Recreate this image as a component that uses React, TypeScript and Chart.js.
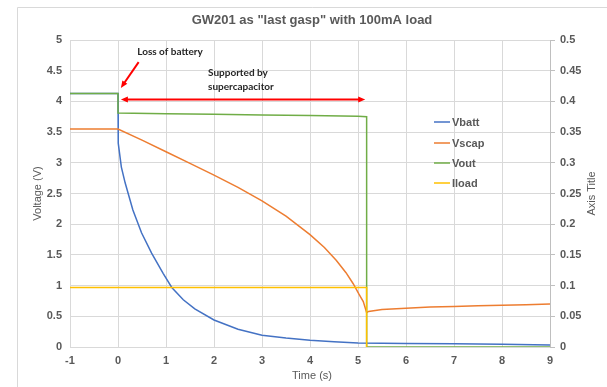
import React, { useEffect, useRef } from "react";
import { Chart, registerables } from "chart.js";

Chart.register(...registerables);

// ---------- data ----------
const chartTitle = 'GW201 as "last gasp" with 100mA load';
const xTitle = "Time (s)";
const yTitle = "Voltage (V)";
const y1Title = "Axis Title";
const seriesNames = ["Vbatt", "Vscap", "Vout", "Iload"];
const seriesColors = ["#4472C4", "#ED7D31", "#70AD47", "#FFC000"];

const vbattTime = [-1, 0, 0, 0.01, 0.07, 0.15, 0.31, 0.49, 0.7, 0.94, 1.12, 1.36, 1.6, 2.0, 2.5, 3.0, 3.5, 4.0, 4.5, 5.0, 5.5, 6.0, 7.0, 8.0, 9.0];
const vbattValues = [4.13, 4.13, 3.8, 3.32, 2.93, 2.67, 2.23, 1.86, 1.53, 1.2, 0.97, 0.77, 0.62, 0.44, 0.29, 0.19, 0.145, 0.11, 0.085, 0.066, 0.06, 0.058, 0.052, 0.043, 0.032];

const vscapTime = [-1, 0, 0.5, 1.0, 1.5, 2.0, 2.5, 3.0, 3.5, 4.0, 4.3, 4.55, 4.75, 4.9, 5.02, 5.11, 5.18, 5.22, 5.5, 6.0, 6.5, 7.0, 7.5, 8.0, 8.5, 9.0];
const vscapValues = [3.55, 3.55, 3.37, 3.18, 2.99, 2.8, 2.6, 2.38, 2.13, 1.83, 1.62, 1.41, 1.21, 1.03, 0.86, 0.74, 0.56, 0.58, 0.61, 0.63, 0.65, 0.66, 0.67, 0.68, 0.69, 0.7];

const voutTime = [-1, 0, 0, 1, 2, 3, 4, 5, 5.18, 5.18, 6, 7, 8, 9];
const voutValues = [4.13, 4.13, 3.81, 3.8, 3.79, 3.78, 3.77, 3.76, 3.75, 0, 0, 0, 0, 0];

const iloadTime = [-1, 5.18, 5.18];
const iloadValues = [0.097, 0.097, 0];

const xTicks = { min: -1, max: 9, step: 1 };
const yTicks = { min: 0, max: 5, step: 0.5 };
const y1Ticks = { min: 0, max: 0.5, step: 0.05 };

// annotations (data coordinates on x / y axes)
const lossLabel = "Loss of battery";
const lossLabelPos = { x: 0.4, y: 4.8 };
const lossArrow = { x0: 0.43, y0: 4.64, x1: 0.06, y1: 4.22 };
const supportLabel = ["Supported by", "supercapacitor"];
const supportLabelPos = { x: 1.875, y: 4.46, y2: 4.23 };
const supportArrow = { x0: 0.06, x1: 5.15, y: 4.03 };

const toPoints = (xs: number[], ys: number[]) => xs.map((x, i) => ({ x, y: ys[i] }));
const fmt = (v: number | string) => String(+Number(v).toFixed(2));

const GRID = "#d9d9d9";
const TEXT = "#595959";

function arrowHead(ctx: CanvasRenderingContext2D, fx: number, fy: number, tx: number, ty: number, len: number, w: number) {
  const a = Math.atan2(ty - fy, tx - fx);
  ctx.beginPath();
  ctx.moveTo(tx, ty);
  ctx.lineTo(tx - len * Math.cos(a) + (w / 2) * Math.sin(a), ty - len * Math.sin(a) - (w / 2) * Math.cos(a));
  ctx.lineTo(tx - len * Math.cos(a) - (w / 2) * Math.sin(a), ty - len * Math.sin(a) + (w / 2) * Math.cos(a));
  ctx.closePath();
  ctx.fill();
}

const decorPlugin = {
  id: "decor",
  beforeDraw(chart: any) {
    const ctx = chart.ctx as CanvasRenderingContext2D;
    ctx.save();
    ctx.fillStyle = "#ffffff";
    ctx.fillRect(0, 0, chart.width, chart.height);
    ctx.strokeStyle = GRID;
    ctx.lineWidth = 1;
    ctx.beginPath();
    ctx.moveTo(17.5, chart.height);
    ctx.lineTo(17.5, 7.5);
    ctx.lineTo(chart.width, 7.5);
    ctx.stroke();
    ctx.restore();
  },
  afterDraw(chart: any) {
    const ctx = chart.ctx as CanvasRenderingContext2D;
    const xs = chart.scales.x;
    const ys = chart.scales.y;
    const area = chart.chartArea;
    ctx.save();
    // title
    ctx.fillStyle = TEXT;
    ctx.font = "bold 13px 'Liberation Sans', Arial, sans-serif";
    ctx.textAlign = "center";
    ctx.textBaseline = "middle";
    ctx.fillText(chartTitle, 312, 20);
    // axis titles
    ctx.font = "11px 'Liberation Sans', Arial, sans-serif";
    ctx.fillText(xTitle, (area.left + area.right) / 2 + 2, 376);
    ctx.save();
    ctx.translate(38, (area.top + area.bottom) / 2);
    ctx.rotate(-Math.PI / 2);
    ctx.fillText(yTitle, 0, 0);
    ctx.restore();
    ctx.save();
    ctx.translate(592, (area.top + area.bottom) / 2);
    ctx.rotate(-Math.PI / 2);
    ctx.fillText(y1Title, 0, 0);
    ctx.restore();
    // legend
    ctx.font = "bold 11px 'Liberation Sans', Arial, sans-serif";
    ctx.textAlign = "left";
    const legY = [122, 143, 163, 183];
    seriesNames.forEach((n, i) => {
      ctx.strokeStyle = seriesColors[i];
      ctx.lineWidth = 1.5;
      ctx.beginPath();
      ctx.moveTo(434, legY[i]);
      ctx.lineTo(450, legY[i]);
      ctx.stroke();
      ctx.fillStyle = TEXT;
      ctx.fillText(n, 452, legY[i] + 0.5);
    });
    // annotations
    ctx.fillStyle = "#262626";
    ctx.font = "bold 10px Lato, 'Open Sans', sans-serif";
    ctx.textAlign = "left";
    ctx.fillText(lossLabel, xs.getPixelForValue(lossLabelPos.x), ys.getPixelForValue(lossLabelPos.y));
    ctx.fillText(supportLabel[0], xs.getPixelForValue(supportLabelPos.x), ys.getPixelForValue(supportLabelPos.y));
    ctx.fillText(supportLabel[1], xs.getPixelForValue(supportLabelPos.x), ys.getPixelForValue(supportLabelPos.y2));
    ctx.strokeStyle = "#FF0000";
    ctx.fillStyle = "#FF0000";
    ctx.lineWidth = 2;
    // loss arrow
    const ax0 = xs.getPixelForValue(lossArrow.x0), ay0 = ys.getPixelForValue(lossArrow.y0);
    const ax1 = xs.getPixelForValue(lossArrow.x1), ay1 = ys.getPixelForValue(lossArrow.y1);
    const ang = Math.atan2(ay1 - ay0, ax1 - ax0);
    ctx.beginPath();
    ctx.moveTo(ax0, ay0);
    ctx.lineTo(ax1 - 5 * Math.cos(ang), ay1 - 5 * Math.sin(ang));
    ctx.stroke();
    arrowHead(ctx, ax0, ay0, ax1, ay1, 7, 6);
    // double arrow
    const bx0 = xs.getPixelForValue(supportArrow.x0);
    const bx1 = xs.getPixelForValue(supportArrow.x1);
    const by = ys.getPixelForValue(supportArrow.y);
    ctx.beginPath();
    ctx.moveTo(bx0 + 5, by);
    ctx.lineTo(bx1 - 5, by);
    ctx.stroke();
    arrowHead(ctx, bx1, by, bx0, by, 7, 6);
    arrowHead(ctx, bx0, by, bx1, by, 7, 6);
    ctx.restore();
  },
};

export default function App() {
  const ref = useRef<HTMLCanvasElement | null>(null);
  useEffect(() => {
    if (!ref.current) return;
    const tickFont = { family: "'Liberation Sans', Arial, sans-serif", size: 11, weight: "bold" as const };
    const chart = new Chart(ref.current, {
      type: "line",
      data: {
        datasets: [
          { label: seriesNames[0], data: toPoints(vbattTime, vbattValues), borderColor: seriesColors[0], yAxisID: "y", order: 4 },
          { label: seriesNames[1], data: toPoints(vscapTime, vscapValues), borderColor: seriesColors[1], yAxisID: "y", order: 3 },
          { label: seriesNames[2], data: toPoints(voutTime, voutValues), borderColor: seriesColors[2], yAxisID: "y", order: 2 },
          { label: seriesNames[3], data: toPoints(iloadTime, iloadValues), borderColor: seriesColors[3], yAxisID: "y1", order: 1 },
        ],
      },
      options: {
        animation: false,
        responsive: false,
        maintainAspectRatio: false,
        layout: { padding: { top: 40, left: 0, right: 0, bottom: 0 } },
        plugins: { legend: { display: false }, tooltip: { enabled: false }, title: { display: false } },
        elements: { point: { radius: 0 }, line: { borderWidth: 1.5, tension: 0, fill: false } },
        scales: {
          x: {
            type: "linear",
            min: xTicks.min,
            max: xTicks.max,
            ticks: { stepSize: xTicks.step, padding: 7, color: TEXT, font: tickFont, callback: (v: any) => fmt(v), maxRotation: 0 },
            grid: { color: GRID, drawTicks: false },
            border: { color: GRID },
            afterFit: (s: any) => { s.height = 40; },
          },
          y: {
            type: "linear",
            position: "left",
            min: yTicks.min,
            max: yTicks.max,
            ticks: { stepSize: yTicks.step, padding: 8, color: TEXT, font: tickFont, callback: (v: any) => fmt(v) },
            grid: { color: GRID, drawTicks: false },
            border: { color: GRID },
            afterFit: (s: any) => { s.width = 70; },
          },
          y1: {
            type: "linear",
            position: "right",
            min: y1Ticks.min,
            max: y1Ticks.max,
            ticks: { stepSize: y1Ticks.step, padding: 5, color: TEXT, font: tickFont, callback: (v: any) => fmt(v) },
            grid: { drawOnChartArea: false, drawTicks: true, tickLength: 5, color: "#bfbfbf" },
            border: { color: "#bfbfbf" },
            afterFit: (s: any) => { s.width = 57; },
          },
        },
      },
      plugins: [decorPlugin],
    } as any);
    return () => chart.destroy();
  }, []);
  return (
    <div style={{ position: "fixed", left: 0, top: 0, width: 607, height: 387, background: "#fff" }}>
      <canvas ref={ref} width={607} height={387} style={{ display: "block", width: 607, height: 387 }} />
    </div>
  );
}
